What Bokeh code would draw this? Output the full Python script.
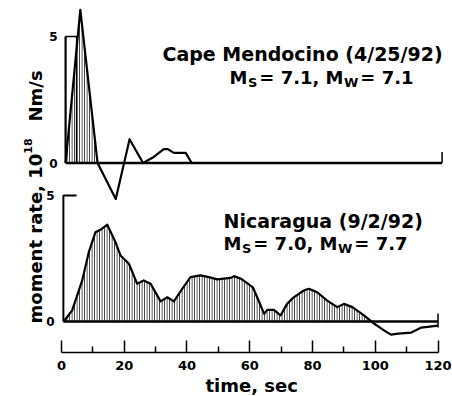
import numpy as np
from bokeh.plotting import figure
from bokeh.models import Range1d, LinearAxis, FixedTicker, Title
from bokeh.core.properties import value
from bokeh.embed import file_html
from bokeh.resources import INLINE

# ---------------- data ----------------
# Cape Mendocino (4/25/92): moment rate, 10^18 Nm/s vs time, sec
cape_t = [1.3, 6.0, 11.5, 17.3, 21.7, 26.0, 29.4, 32.6, 33.9, 35.8, 39.6, 41.5]
cape_v = [0.0, 6.05, 0.0, -1.42, 0.94, 0.0, 0.24, 0.55, 0.55, 0.40, 0.40, 0.0]
cape_pulse_n = 3            # first pulse (hatched)
cape_box_t = [1.3, 4.8]     # boxcar outline
cape_box_v = 5.0
cape_end_t = 121.3

# Nicaragua (9/2/92)
nic_t = [0.7, 3.4, 6.6, 8.7, 10.8, 12.4, 14.6, 17.2, 18.8, 21.5, 24.1, 26.2, 28.4,
         31.6, 33.7, 35.8, 38.5, 41.1, 44.3, 47.0, 49.6, 53.9, 55.0, 57.2, 61.0,
         62.4, 64.6, 65.6, 67.7, 69.8, 71.9, 74.0, 77.2, 78.8, 81.5, 84.7, 87.9,
         90.0, 92.7, 96.4, 99.6, 102.9, 105.0, 107.3, 111.5, 114.7, 120.0]
nic_v = [0.0, 0.44, 1.63, 2.75, 3.54, 3.64, 3.84, 3.15, 2.62, 2.29, 1.50, 1.63, 1.50,
         0.80, 0.96, 0.80, 1.30, 1.76, 1.83, 1.76, 1.67, 1.73, 1.80, 1.70, 1.35,
         0.95, 0.30, 0.46, 0.46, 0.24, 0.70, 0.96, 1.23, 1.30, 1.16, 0.83, 0.57,
         0.70, 0.57, 0.24, -0.08, -0.36, -0.52, -0.48, -0.44, -0.24, -0.16]
nic_axis_t = 0.6
nic_end_t = 120.0

y_ticks = [0, 5]
y_tick_labels = ["0", "5"]
time_ticks = [0, 20, 40, 60, 80, 100, 120]
time_minor = [10, 30, 50, 70, 90, 110]
time_label = "time, sec"

cape_title = "Cape Mendocino (4/25/92)"
cape_ms, cape_mw = "7.1", "7.1"
nic_title = "Nicaragua (9/2/92)"
nic_ms, nic_mw = "7.0", "7.7"

# ---------------- figure ----------------
FONT = value("DejaVu Sans")
W, H = 452, 396
p = figure(width=W, height=H, output_backend="svg", toolbar_location=None,
           x_range=Range1d(-19.44, 124.62), y_range=Range1d(-7.49, 6.423),
           x_axis_location=None, y_axis_location=None,
           min_border_left=0, min_border_right=0, min_border_top=0,
           min_border_bottom=44, background_fill_color="white",
           border_fill_color="white")
p.extra_y_ranges = {"lower": Range1d(-1.23, 12.738)}
p.xgrid.visible = False
p.ygrid.visible = False
p.outline_line_color = None

xaxis = LinearAxis(ticker=FixedTicker(ticks=time_ticks, minor_ticks=time_minor),
                   bounds=(0, 120))
xaxis.axis_line_width = 1.5
xaxis.major_tick_line_width = 1.5
xaxis.minor_tick_line_width = 1.5
xaxis.major_tick_in = 12
xaxis.major_tick_out = 0
xaxis.minor_tick_in = 6
xaxis.minor_tick_out = 0
xaxis.major_label_text_font = "DejaVu Sans"
xaxis.major_label_text_font_style = "bold"
xaxis.major_label_text_font_size = "13px"
xaxis.major_label_text_color = "black"
xaxis.major_label_standoff = 8
p.add_layout(xaxis, "below")

xlabel = Title(text=time_label, align="left", offset=205, standoff=0,
               text_font="DejaVu Sans", text_font_style="bold",
               text_font_size="18px", text_color="black")
p.add_layout(xlabel, "below")

HATCH = dict(fill_alpha=0, hatch_pattern="|", hatch_scale=2.5, hatch_weight=1,
             hatch_color="black", hatch_alpha=0.9)

# ---- upper panel (Cape Mendocino) ----
ct = np.array(cape_t)
cv = np.array(cape_v)
p.varea(x=ct[:cape_pulse_n], y1=np.zeros(cape_pulse_n), y2=cv[:cape_pulse_n], **HATCH)
p.line([cape_t[0], cape_end_t], [0, 0], line_width=2.6, color="black")
p.segment(x0=[cape_end_t], y0=[0], x1=[cape_end_t], y1=[0.43], line_width=1.5, color="black")
p.line([cape_box_t[0], cape_box_t[0], cape_box_t[1], cape_box_t[1]],
       [0, cape_box_v, cape_box_v, 0], line_width=1.4, color="black")
p.segment(x0=[cape_box_t[0]], y0=[0], x1=[cape_box_t[0]], y1=[cape_box_v],
          line_width=2, color="black")
p.line(ct, cv, line_width=2.2, color="black", line_join="round")

# ---- lower panel (Nicaragua) ----
nt = np.array(nic_t)
nv = np.array(nic_v)
p.varea(x=nt, y1=np.zeros(len(nt)), y2=np.maximum(nv, 0), y_range_name="lower", **HATCH)
p.line([nic_axis_t, nic_end_t], [0, 0], line_width=2.6, color="black", y_range_name="lower")
p.segment(x0=[nic_end_t], y0=[-0.24], x1=[nic_end_t], y1=[0.32], line_width=1.5,
          color="black", y_range_name="lower")
p.line([nic_axis_t, nic_axis_t, cape_box_t[1]], [0, y_ticks[-1], y_ticks[-1]],
       line_width=2, color="black", y_range_name="lower")
p.line(nt, nv, line_width=2.2, color="black", line_join="round", y_range_name="lower")

# ---- y tick labels ----
TXT = dict(text_font=FONT, text_font_style="bold", text_color="black")
p.text(x=[-1.27] * len(y_ticks), y=y_ticks, text=y_tick_labels, text_align="right",
       text_baseline="middle", text_font_size="12px", **TXT)
p.text(x=[-2.23] * len(y_ticks), y=y_ticks, text=y_tick_labels, text_align="right",
       text_baseline="middle", text_font_size="12px", y_range_name="lower", **TXT)

# ---- titles with subscripts ----
ADV = {'M': 0.995, 'W': 1.102, 'S': 0.720, '=': 0.838, ' ': 0.348, '.': 0.380,
       ',': 0.380, '0': 0.696, '1': 0.696, '7': 0.696, '8': 0.696}


def adv(s, size):
    return sum(ADV.get(c, 0.68) for c in s) * size


def mag_line(x, y, ms, mw, yr):
    big, small = 18, 13
    pieces = [("M", big, 0), ("S", small, 5), (f"= {ms}, M", big, 0),
              ("W", small, 5), (f"= {mw}", big, 0)]
    xo = 0.0
    for txt, size, dy in pieces:
        p.text(x=[x], y=[y], text=[txt], x_offset=xo, y_offset=dy,
               text_font_size=f"{size}px", text_align="left",
               text_baseline="alphabetic", y_range_name=yr, **TXT)
        xo += adv(txt, size) + (2 if size == small else 0.5)


p.text(x=[32.19], y=[4.289], text=[cape_title], text_font_size="19px",
       text_align="left", text_baseline="alphabetic", **TXT)
mag_line(53.55, 3.379, cape_ms, cape_mw, "default")
p.text(x=[51.63], y=[4.008], text=[nic_title], text_font_size="19px",
       text_align="left", text_baseline="alphabetic", y_range_name="lower", **TXT)
mag_line(51.63, 3.095, nic_ms, nic_mw, "lower")

# ---- rotated y-axis label: moment rate, 10^18 Nm/s ----
lab_main = "moment rate, 10"
p.text(x=[-8.29], y=[-0.079], text=[lab_main], angle=np.pi / 2, text_font_size="18px",
       text_align="left", text_baseline="alphabetic", y_range_name="lower", **TXT)
main_len = 9.431 * 18
p.text(x=[-8.29], y=[-0.079], text=["18"], angle=np.pi / 2, x_offset=-7,
       y_offset=-main_len, text_font_size="11px", text_align="left",
       text_baseline="alphabetic", y_range_name="lower", **TXT)
p.text(x=[-8.29], y=[-0.079], text=["Nm/s"], angle=np.pi / 2, y_offset=-202,
       text_font_size="18px", text_align="left", text_baseline="alphabetic",
       y_range_name="lower", **TXT)

open("out.html", "w").write(file_html(p, INLINE))
